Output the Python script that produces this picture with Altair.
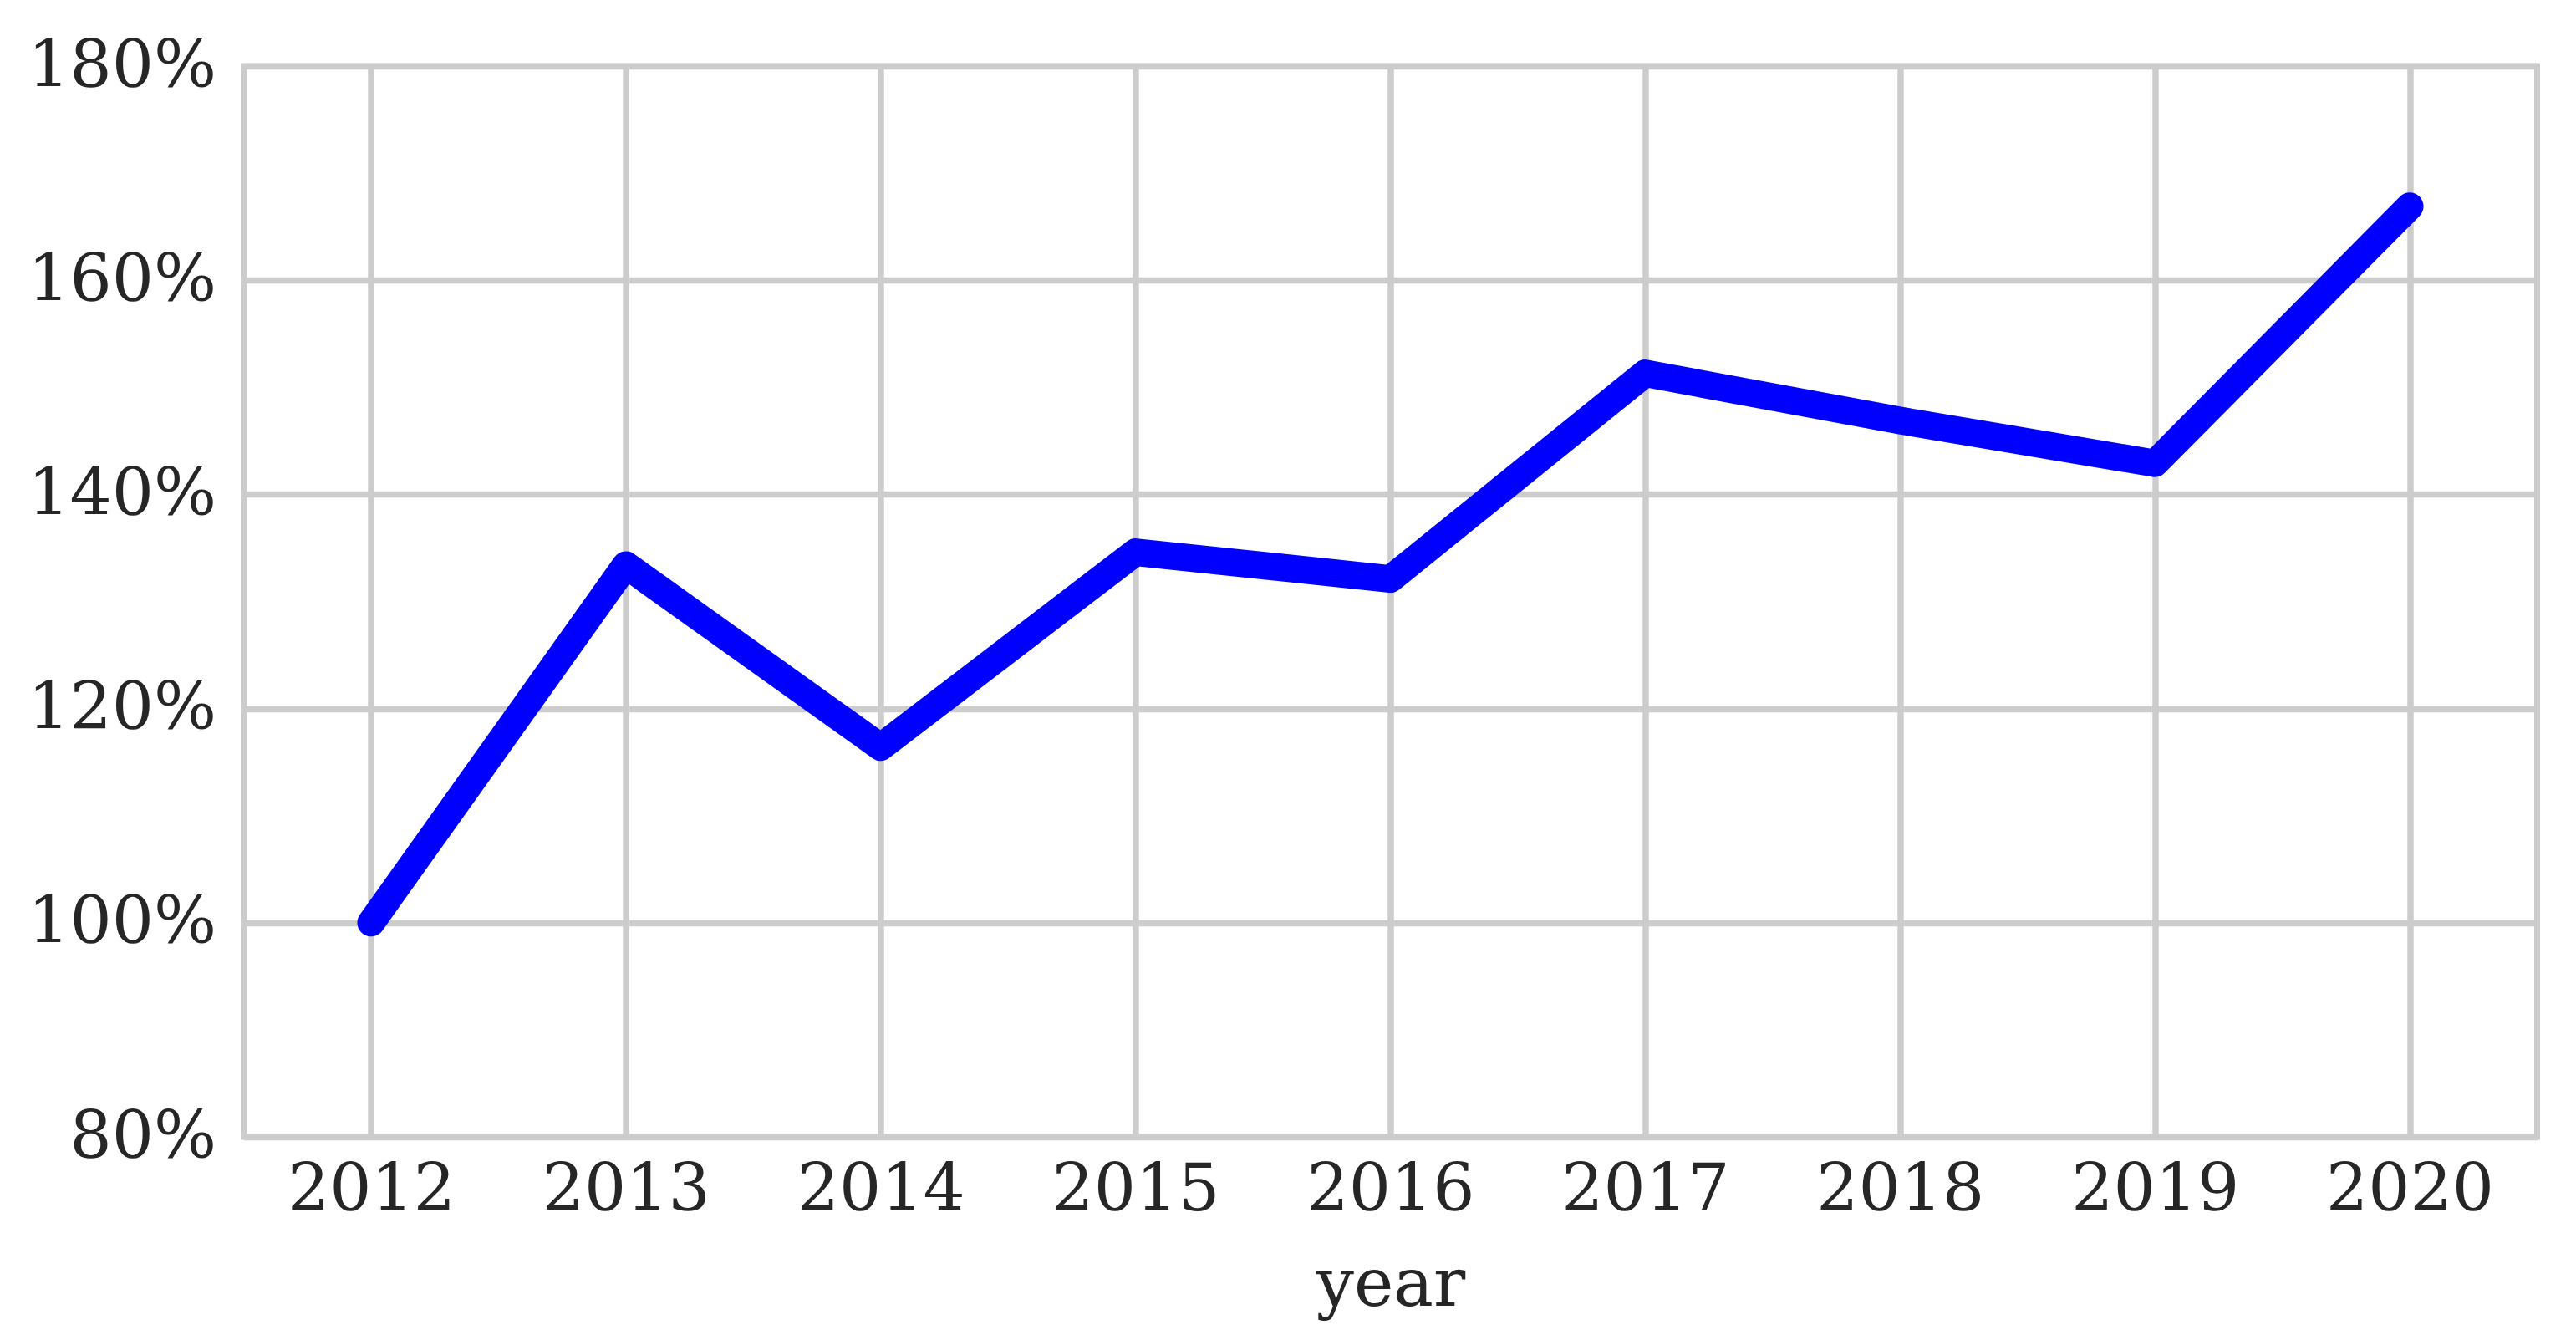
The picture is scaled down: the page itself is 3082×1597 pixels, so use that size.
import altair as alt
import pandas as pd

years = [2012, 2013, 2014, 2015, 2016, 2017, 2018, 2019, 2020]
values = [100.0, 133.4, 116.4, 134.6, 132.1, 151.3, 146.9, 142.9, 166.9]
y_ticks = [80, 100, 120, 140, 160, 180]
x_ticks = years

df = pd.DataFrame({"year": years, "value": values})

FONT = "DejaVu Serif"
TEXT = "#262626"

chart = (
    alt.Chart(df)
    .mark_line(color="#0000ff", strokeWidth=33, strokeCap="round", strokeJoin="round")
    .encode(
        x=alt.X(
            "year:Q",
            scale=alt.Scale(domain=[2011.5, 2020.5], nice=False, zero=False),
            axis=alt.Axis(values=x_ticks, format="d", title="year",
                          labelPadding=25, titlePadding=35),
        ),
        y=alt.Y(
            "value:Q",
            scale=alt.Scale(domain=[80, 180], nice=False, zero=False),
            axis=alt.Axis(values=y_ticks, labelExpr="datum.value + '%'", title=None,
                          labelPadding=33),
        ),
    )
    .properties(
        width=2744,
        height=1281,
        autosize=alt.AutoSizeParams(type="none"),
        padding={"left": 283.5, "top": 71, "right": 30, "bottom": 228},
    )
    .configure_view(stroke="#cccccc", strokeWidth=7)
    .configure_axis(
        grid=True,
        gridColor="#cccccc",
        gridWidth=7.5,
        gridOpacity=1,
        domain=False,
        ticks=False,
        tickSize=0,
        labelFont=FONT,
        labelFontSize=79,
        labelColor=TEXT,
        labelLimit=0,
        labelOverlap=False,
        titleFont=FONT,
        titleFontSize=80,
        titleFontWeight="normal",
        titleColor=TEXT,
        titleLimit=0,
    )
)

chart.save("out.html", embed_options={"renderer": "svg", "actions": False})
